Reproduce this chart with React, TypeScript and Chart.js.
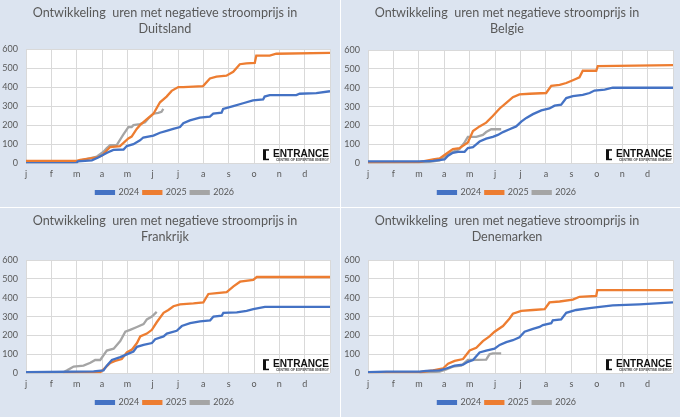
import React, { useEffect, useRef } from "react";
import { Chart, registerables } from "chart.js";

Chart.register(...registerables);

const MONTH_LABELS = ["j", "f", "m", "a", "m", "j", "j", "a", "s", "o", "n", "d"];
const SERIES_NAMES = ["2024", "2025", "2026"];
const SERIES_COLORS = ["#4472c4", "#ed7d31", "#a5a5a5"];
const TITLE_PREFIX = "Ontwikkeling  uren met negatieve stroomprijs in";

// [month (0 = 1 jan, 12 = 31 dec), cumulative hours]
const DE_2024 = [[0,0],[2.0,2],[2.05,10],[2.6,15],[2.85,30],[3.2,55],[3.45,70],[3.85,72],[3.98,90],[4.24,100],[4.5,120],[4.63,135],[5.03,145],[5.29,160],[5.55,170],[5.81,180],[6.08,190],[6.21,210],[6.47,225],[6.86,240],[7.26,245],[7.39,260],[7.72,265],[7.78,285],[8.18,300],[8.57,315],[8.96,330],[9.36,335],[9.42,350],[9.62,358],[10.67,358],[10.8,365],[11.46,368],[12,378]];
const DE_2025 = [[0,12],[2.0,12],[2.14,18],[2.8,30],[3.0,40],[3.32,85],[3.71,90],[4.04,130],[4.17,140],[4.37,180],[4.5,200],[4.76,230],[5.03,260],[5.29,320],[5.55,350],[5.75,380],[6.01,400],[6.21,400],[6.99,405],[7.26,445],[7.52,455],[7.91,460],[8.18,480],[8.44,520],[8.7,525],[9.03,527],[9.09,565],[9.62,565],[9.88,575],[12,580]];
const DE_2026 = [[0,2],[1.88,2],[2.01,10],[2.8,35],[3.06,60],[3.19,80],[3.32,95],[3.58,95],[3.84,150],[4.04,190],[4.17,190],[4.24,200],[4.5,205],[4.7,215],[4.83,235],[5.03,260],[5.22,265],[5.35,270],[5.42,285]];

const BE_2024 = [[0,10],[2.0,10],[2.56,12],[3.01,20],[3.15,40],[3.34,55],[3.54,60],[3.8,60],[3.93,80],[4.13,85],[4.26,100],[4.39,115],[4.65,130],[4.91,140],[5.11,150],[5.31,165],[5.57,180],[5.83,195],[6.03,220],[6.23,240],[6.49,260],[6.82,280],[7.14,290],[7.34,305],[7.6,310],[7.8,345],[8.06,355],[8.45,362],[8.72,372],[8.91,385],[9.31,390],[9.63,400],[12,400]];
const BE_2025 = [[0,3],[2.0,5],[2.16,10],[2.56,20],[2.82,25],[3.08,50],[3.34,75],[3.6,80],[3.93,110],[4.13,170],[4.39,195],[4.65,215],[4.91,250],[5.18,290],[5.44,320],[5.7,350],[5.96,365],[6.36,368],[7.01,372],[7.21,410],[7.54,415],[7.8,425],[8.06,440],[8.32,455],[8.45,490],[8.98,490],[9.04,515],[12,520]];
const BE_2026 = [[0,2],[2.29,5],[2.82,15],[3.08,40],[3.34,60],[3.6,75],[3.8,110],[3.93,140],[4.26,140],[4.52,150],[4.65,165],[4.85,180],[5.24,180]];

const FR_2024 = [[0,5],[2.67,10],[3.06,15],[3.19,40],[3.39,70],[3.72,85],[3.98,100],[4.24,115],[4.38,140],[4.64,150],[4.97,160],[5.1,180],[5.43,195],[5.56,210],[5.95,225],[6.15,250],[6.48,265],[6.87,275],[7.27,280],[7.4,300],[7.73,305],[7.79,320],[8.32,322],[8.71,330],[8.97,340],[9.43,352],[12,352]];
const FR_2025 = [[1.48,5],[2.93,5],[3.13,30],[3.33,55],[3.52,65],[3.78,75],[3.98,110],[4.18,125],[4.38,160],[4.51,195],[4.77,210],[4.97,230],[5.16,270],[5.43,320],[5.62,335],[5.82,355],[6.08,365],[6.61,370],[7.0,375],[7.2,420],[7.53,425],[7.92,430],[8.19,460],[8.45,485],[8.97,495],[9.11,510],[12,510]];
const FR_2026 = [[0,5],[1.48,5],[1.62,15],[1.88,35],[2.27,40],[2.54,55],[2.73,70],[2.93,70],[3.06,95],[3.19,120],[3.46,130],[3.72,170],[3.92,220],[4.11,230],[4.38,245],[4.64,260],[4.77,285],[4.97,300],[5.16,325]];

const DK_2024 = [[0,5],[0.72,8],[2.03,8],[2.29,12],[2.82,15],[3.08,25],[3.41,40],[3.74,45],[3.93,60],[4.13,70],[4.39,110],[4.65,120],[4.98,130],[5.18,150],[5.44,165],[5.7,175],[5.96,190],[6.16,220],[6.49,235],[6.75,245],[6.88,255],[7.21,265],[7.27,280],[7.6,285],[7.8,320],[8.19,335],[8.72,345],[9.04,350],[9.63,360],[10.68,365],[12,375]];
const DK_2025 = [[0,5],[2.03,5],[2.56,15],[2.95,25],[3.15,50],[3.41,65],[3.74,75],[4.0,120],[4.26,135],[4.52,170],[4.78,195],[4.98,220],[5.31,250],[5.57,290],[5.7,315],[6.03,330],[6.49,335],[6.95,340],[7.14,375],[7.54,380],[8.06,390],[8.32,405],[8.98,410],[9.02,440],[12,440]];
const DK_2026 = [[2.03,2],[2.82,8],[3.08,20],[3.34,35],[3.67,40],[3.93,70],[4.65,72],[4.78,100],[4.91,105],[5.24,105]];

const FONT = "Lato";
const TEXT_COLOR = "#595959";
const BG = "#dce4f0";

const logoPlugin = {
  id: "entranceLogo",
  afterDatasetsDraw(chart: any) {
    const { ctx, chartArea } = chart;
    const r = chartArea.right - 1;
    const b = chartArea.bottom;
    ctx.save();
    ctx.fillStyle = "#111111";
    const ix = r - 66;
    const iy = b - 14;
    ctx.fillRect(ix, iy, 3, 11);
    ctx.fillRect(ix + 3, iy, 3, 1.5);
    ctx.fillRect(ix + 3, iy + 9.5, 3, 1.5);
    ctx.font = `bold 11px "Liberation Sans"`;
    ctx.textAlign = "right";
    ctx.textBaseline = "alphabetic";
    ctx.fillText("ENTRANCE", r, b - 6, 56);
    ctx.font = `bold 3.5px "Liberation Sans"`;
    ctx.fillStyle = "#444";
    ctx.fillText("CENTRE OF EXPERTISE ENERGY", r, b - 2.5, 53);
    ctx.restore();
  },
};

const bgPlugin = {
  id: "panelBg",
  beforeDraw(chart: any) {
    const { ctx, chartArea, width, height } = chart;
    ctx.save();
    ctx.fillStyle = BG;
    ctx.fillRect(0, 0, width, height);
    ctx.fillStyle = "#ffffff";
    ctx.fillRect(chartArea.left, chartArea.top, chartArea.right - chartArea.left, chartArea.bottom - chartArea.top);
    ctx.restore();
  },
};

type PanelProps = {
  country: string;
  series: number[][][];
  width: number;
  height: number;
  yAxisWidth: number;
  padRight: number;
  titleBottom: number;
  xPad: number;
};

function Panel({ country, series, width, height, yAxisWidth, padRight, titleBottom, xPad }: PanelProps) {
  const ref = useRef<HTMLCanvasElement | null>(null);
  useEffect(() => {
    if (!ref.current) return;
    const chart = new Chart(ref.current, {
      type: "line",
      data: {
        datasets: series.map((s, i) => ({
          label: SERIES_NAMES[i],
          data: s.map(([x, y]) => ({ x, y })),
          borderColor: SERIES_COLORS[i],
          backgroundColor: SERIES_COLORS[i],
          borderWidth: 2.3,
          pointRadius: 0,
          tension: 0,
        })),
      },
      options: {
        responsive: false,
        animation: false,
        devicePixelRatio: 1,
        layout: { padding: { left: 0, right: padRight, top: 0, bottom: 0 } },
        plugins: {
          title: {
            display: true,
            text: [TITLE_PREFIX, country],
            color: TEXT_COLOR,
            font: { family: FONT, size: 12.6, weight: "normal", lineHeight: 1.27 },
            padding: { top: 5, bottom: titleBottom },
          },
          legend: {
            position: "bottom",
            labels: {
              color: TEXT_COLOR,
              font: { family: FONT, size: 9 },
              boxWidth: 18,
              boxHeight: 2.5,
              padding: 4,
            },
          },
          tooltip: { enabled: false },
        },
        scales: {
          x: {
            type: "linear",
            min: 0,
            max: 12,
            grid: { color: "#d9d9d9", drawTicks: false },
            border: { display: false },
            ticks: {
              stepSize: 1,
              padding: xPad,
              color: TEXT_COLOR,
              font: { family: FONT, size: 9 },
              maxRotation: 0,
              callback: (v: any) => (v >= 0 && v < 12 ? MONTH_LABELS[v] : ""),
            },
          },
          y: {
            min: 0,
            max: 600,
            grid: { color: "#d9d9d9", drawTicks: false },
            border: { display: false },
            ticks: {
              stepSize: 100,
              padding: 8,
              color: TEXT_COLOR,
              font: { family: FONT, size: 9 },
            },
            afterFit: (scale: any) => {
              scale.width = yAxisWidth;
            },
          },
        },
      },
      plugins: [bgPlugin, logoPlugin],
    });
    return () => chart.destroy();
  }, []);
  return <canvas ref={ref} width={width} height={height} style={{ display: "block" }} />;
}

export default function App() {
  return (
    <div
      style={{
        position: "fixed",
        left: 0,
        top: 0,
        width: 680,
        height: 417,
        background: "#ffffff",
      }}
    >
      <div style={{ position: "absolute", left: 0, top: 0 }}>
        <Panel country="Duitsland" series={[DE_2024, DE_2025, DE_2026]} width={340} height={207} yAxisWidth={26} padRight={10} titleBottom={12} xPad={5} />
      </div>
      <div style={{ position: "absolute", left: 341, top: 0 }}>
        <Panel country="Belgie" series={[BE_2024, BE_2025, BE_2026]} width={339} height={207} yAxisWidth={27} padRight={7} titleBottom={13} xPad={5} />
      </div>
      <div style={{ position: "absolute", left: 0, top: 208 }}>
        <Panel country="Frankrijk" series={[FR_2024, FR_2025, FR_2026]} width={340} height={209} yAxisWidth={26} padRight={10} titleBottom={15} xPad={5} />
      </div>
      <div style={{ position: "absolute", left: 341, top: 208 }}>
        <Panel country="Denemarken" series={[DK_2024, DK_2025, DK_2026]} width={339} height={209} yAxisWidth={27} padRight={7} titleBottom={15} xPad={5} />
      </div>
    </div>
  );
}
